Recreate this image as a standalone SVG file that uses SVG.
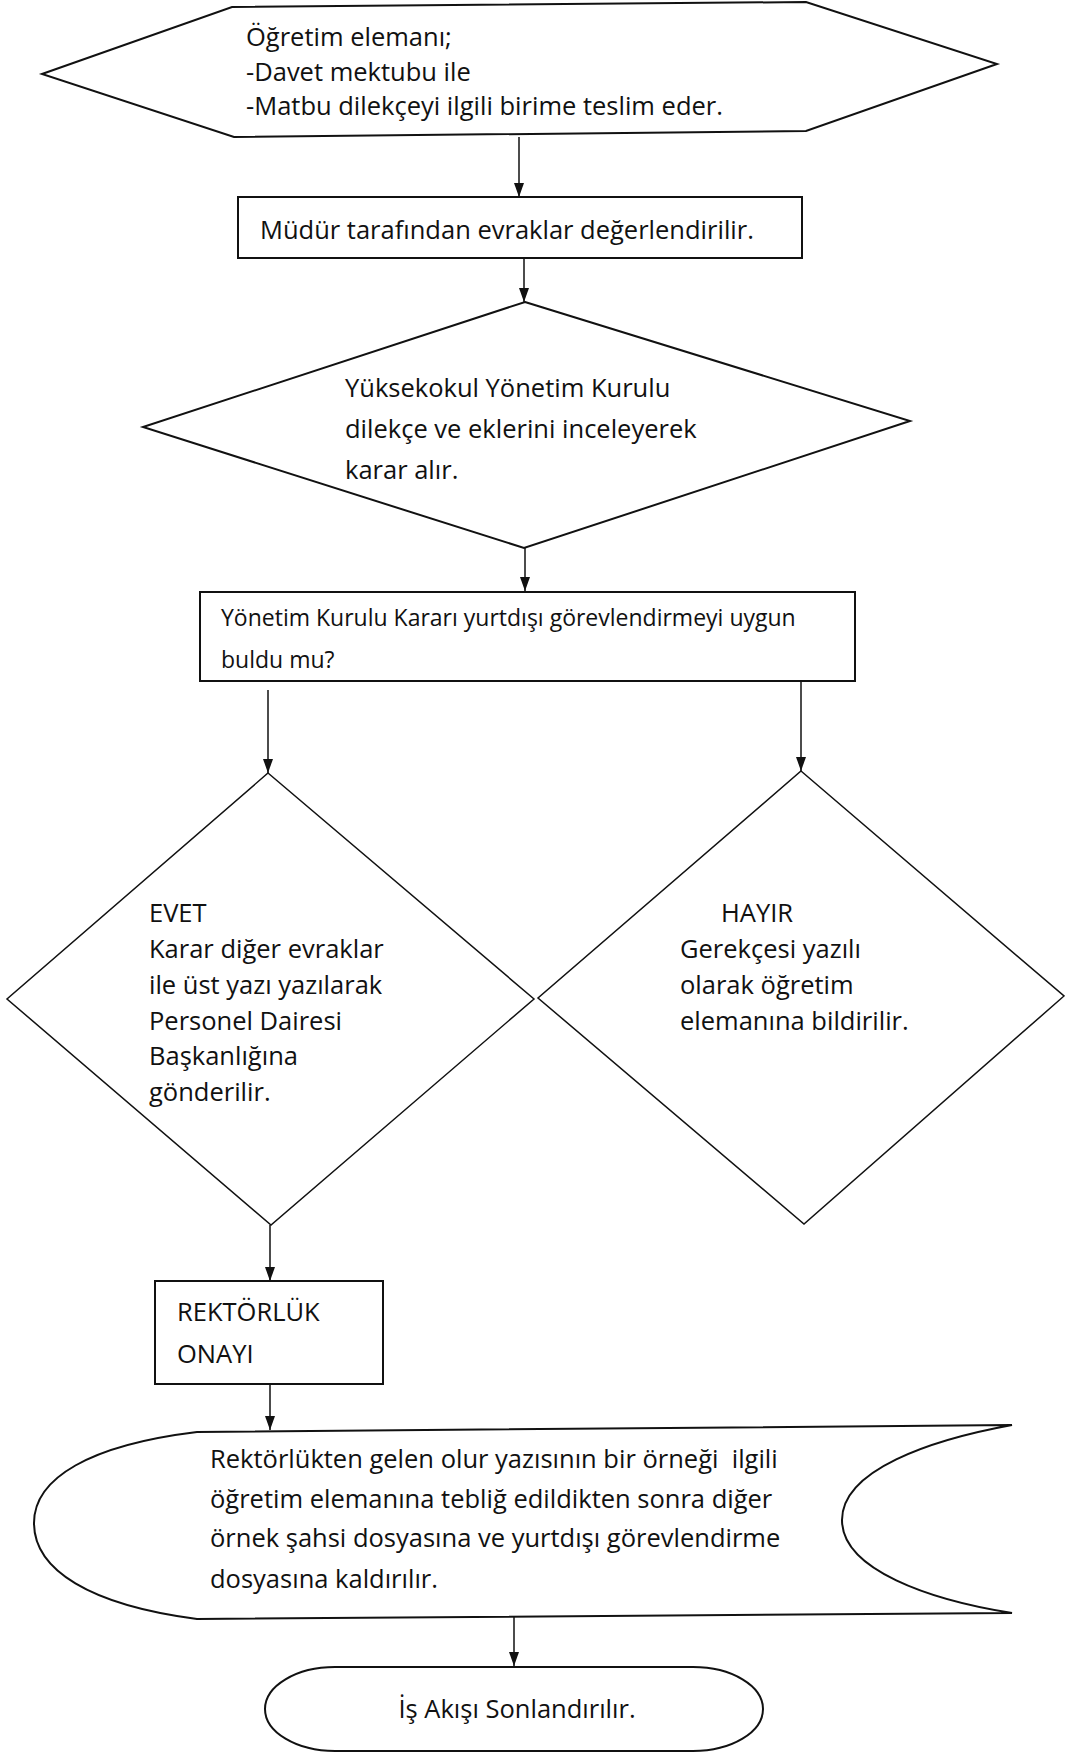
<svg xmlns="http://www.w3.org/2000/svg" width="1065" height="1752" viewBox="0 0 1065 1752">
  <defs>
    <marker id="arrowhead" viewBox="0 0 14 10" refX="14" refY="5" markerWidth="14" markerHeight="10" markerUnits="userSpaceOnUse" orient="auto">
      <path d="M0,0 L14,5 L0,10 Z" fill="#111"/>
    </marker>
    <style>
      .shape { fill: #fff; stroke: #111; stroke-width: 2; stroke-linejoin: miter; }
      .thin { stroke-width: 1.5; }
      .edge { fill: none; stroke: #111; stroke-width: 1.5; marker-end: url(#arrowhead); }
      .label { font-family: "Open Sans", "Noto Sans", "DejaVu Sans", sans-serif; font-size: 25.5px; fill: #111; }
      .small { font-size: 23px; }
    </style>
  </defs>
  <rect width="1065" height="1752" fill="#fff"/>

  <!-- connectors -->
  <g id="connectors">
    <line class="edge" x1="519" y1="137" x2="519" y2="197"/>
    <line class="edge" x1="524" y1="258" x2="524" y2="302"/>
    <line class="edge" x1="525" y1="548" x2="525" y2="591"/>
    <line class="edge" x1="268" y1="690" x2="268" y2="773"/>
    <line class="edge" x1="801" y1="680" x2="801" y2="771"/>
    <line class="edge" x1="270" y1="1225" x2="270" y2="1281"/>
    <line class="edge" x1="270" y1="1384" x2="270" y2="1430"/>
    <line class="edge" x1="514" y1="1616" x2="514" y2="1666"/>
  </g>

  <!-- start: hexagon -->
  <g id="n-start">
    <polygon class="shape" points="42,74 232,7 806,2 997,64 806,131 234,137"/>
    <text class="label" x="246" y="46">Öğretim elemanı;</text>
    <text class="label" x="246" y="81">-Davet mektubu ile</text>
    <text class="label" x="246" y="115">-Matbu dilekçeyi ilgili birime teslim eder.</text>
  </g>

  <!-- evaluation by the director -->
  <g id="n-review">
    <rect class="shape" x="238" y="197" width="564" height="61"/>
    <text class="label" x="260" y="239">Müdür tarafından evraklar değerlendirilir.</text>
  </g>

  <!-- board decision -->
  <g id="n-board">
    <polygon class="shape" points="525,302 910,421 524,548 143,427"/>
    <text class="label" x="345" y="397">Yüksekokul Yönetim Kurulu</text>
    <text class="label" x="345" y="438">dilekçe ve eklerini inceleyerek</text>
    <text class="label" x="345" y="479">karar alır.</text>
  </g>

  <!-- question -->
  <g id="n-question">
    <rect class="shape" x="200" y="592" width="655" height="89"/>
    <text class="label small" x="221" y="626">Yönetim Kurulu Kararı yurtdışı görevlendirmeyi uygun</text>
    <text class="label small" x="221" y="668">buldu mu?</text>
  </g>

  <!-- yes branch -->
  <g id="n-yes">
    <polygon class="shape thin" points="268,773 534,999 271,1225 7,999"/>
    <text class="label" x="149" y="922">EVET</text>
    <text class="label" x="149" y="958">Karar diğer evraklar</text>
    <text class="label" x="149" y="994">ile üst yazı yazılarak</text>
    <text class="label" x="149" y="1030">Personel Dairesi</text>
    <text class="label" x="149" y="1065">Başkanlığına</text>
    <text class="label" x="149" y="1101">gönderilir.</text>
  </g>

  <!-- no branch -->
  <g id="n-no">
    <polygon class="shape thin" points="801,771 1064,996 804,1224 538,998"/>
    <text class="label" x="721" y="922">HAYIR</text>
    <text class="label" x="680" y="958">Gerekçesi yazılı</text>
    <text class="label" x="680" y="994">olarak öğretim</text>
    <text class="label" x="680" y="1030">elemanına bildirilir.</text>
  </g>

  <!-- rectorate approval -->
  <g id="n-approval">
    <rect class="shape" x="155" y="1281" width="228" height="103"/>
    <text class="label" x="177" y="1321">REKTÖRLÜK</text>
    <text class="label" x="177" y="1363">ONAYI</text>
  </g>

  <!-- filing -->
  <g id="n-filing">
    <path class="shape" d="M197,1432 L1012,1425 C930,1440 842,1470 842,1520 C842,1570 930,1600 1012,1613 L197,1619 C90,1605 34,1570 34,1523 C34,1478 90,1445 197,1432 Z"/>
    <text class="label" x="210" y="1468" xml:space="preserve">Rektörlükten gelen olur yazısının bir örneği  ilgili</text>
    <text class="label" x="210" y="1508">öğretim elemanına tebliğ edildikten sonra diğer</text>
    <text class="label" x="210" y="1547">örnek şahsi dosyasına ve yurtdışı görevlendirme</text>
    <text class="label" x="210" y="1588">dosyasına kaldırılır.</text>
  </g>

  <!-- end -->
  <g id="n-end">
    <rect class="shape" x="265" y="1667" width="498" height="84" rx="70" ry="42"/>
    <text class="label" x="517" y="1718" text-anchor="middle">İş Akışı Sonlandırılır.</text>
  </g>
</svg>
